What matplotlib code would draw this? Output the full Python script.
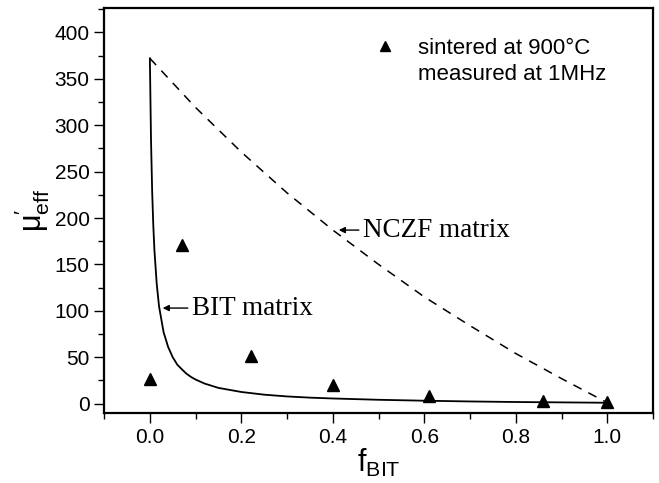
import numpy as np
import matplotlib.pyplot as plt

plt.rcParams['font.family'] = ['Liberation Sans', 'DejaVu Sans']
plt.rcParams['mathtext.fontset'] = 'custom'
plt.rcParams['mathtext.rm'] = 'Liberation Sans'
plt.rcParams['mathtext.it'] = 'Liberation Sans'
plt.rcParams['mathtext.bf'] = 'Liberation Sans:bold'

# measured points
f_meas = [0.0, 0.07, 0.22, 0.40, 0.61, 0.86, 1.0]
mu_meas = [27, 171, 51, 20, 8, 3, 2]

# BIT matrix curve
f_bit = [0.0, 0.0025, 0.005, 0.0075, 0.01, 0.015, 0.02, 0.03, 0.04, 0.05,
         0.06, 0.07, 0.08, 0.09, 0.1, 0.12, 0.15, 0.2, 0.25, 0.3, 0.35,
         0.4, 0.5, 0.6, 0.7, 0.8, 0.9, 1.0]
mu_bit = [372, 284, 229, 192, 165, 129, 105, 77, 61, 50,
          42, 37, 32.3, 28.8, 26, 21.6, 17, 12.6, 9.7, 7.8, 6.5,
          5.6, 4.2, 3.2, 2.4, 1.8, 1.4, 1.0]

# NCZF matrix curve
f_nczf = [0.0, 0.1, 0.2, 0.3, 0.4, 0.5, 0.6, 0.7, 0.8, 0.9, 1.0]
mu_nczf = [372, 319, 271, 227, 187, 150, 115, 84, 54, 27, 1.0]

fig = plt.figure(figsize=(6.59, 4.83), dpi=100)
ax = fig.add_axes([0.158, 0.145, 0.833, 0.838])

ax.plot(f_bit, mu_bit, 'k-', lw=1.3)
ax.plot(f_nczf, mu_nczf, 'k--', lw=1.1, dashes=(6, 5))
ax.plot(f_meas, mu_meas, 'k^', ms=9, ls='none', label='sintered at 900\u00b0C')

ax.set_xlim(-0.1, 1.1)
ax.set_ylim(-10, 426)
ax.set_xticks([0.0, 0.2, 0.4, 0.6, 0.8, 1.0])
ax.set_xticks(np.arange(-0.1, 1.15, 0.2), minor=True)
ax.set_yticks(range(0, 401, 50))
ax.set_yticks(range(25, 426, 50), minor=True)
ax.tick_params(which='both', direction='out', width=1, labelsize=15)
ax.tick_params(which='major', length=7)
ax.tick_params(which='minor', length=4)
for s in ax.spines.values():
    s.set_linewidth(1.6)

ax.set_xlabel(r'$\mathregular{f_{BIT}}$', fontsize=22, labelpad=0)
ax.set_ylabel(r"$\mathregular{\mu_{eff}^{\prime}}$", fontsize=22, labelpad=2)

ax.annotate('BIT matrix', xy=(0.028, 103), xytext=(0.092, 103),
            fontsize=19.5, family='Liberation Serif', va='center', ha='left',
            arrowprops=dict(arrowstyle='-|>', color='k', lw=1,
                            mutation_scale=9, shrinkA=1, shrinkB=0))
ax.annotate('NCZF matrix', xy=(0.413, 187), xytext=(0.466, 187),
            fontsize=19.5, family='Liberation Serif', va='center', ha='left',
            arrowprops=dict(arrowstyle='-|>', color='k', lw=1,
                            mutation_scale=9, shrinkA=1, shrinkB=0))

leg = ax.legend(loc='upper left', bbox_to_anchor=(0.451, 0.955), frameon=False,
                fontsize=16, handletextpad=0.5, markerscale=0.8, borderpad=0)
ax.text(0.572, 0.835, 'measured at 1MHz', transform=ax.transAxes,
        fontsize=16, va='center', ha='left')

fig.savefig('out.png', dpi=100)
